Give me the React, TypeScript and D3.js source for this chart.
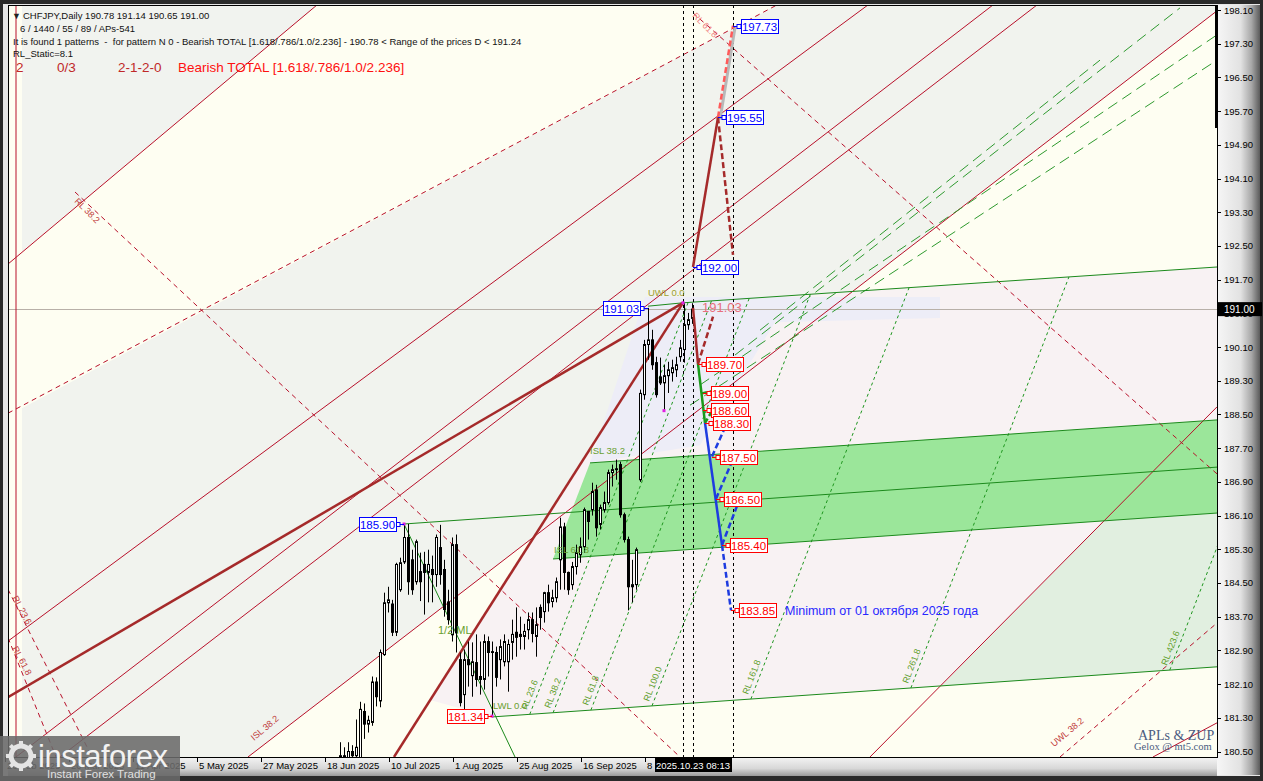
import React from "react";
import * as d3 from "d3";

// ---------- DATA ----------
const firstBar = 35; // bar index of first visible candle (bar 0 = 5 May 2025)
const opens = [180.2,180.4,180.3,180.5,180.4,180.35,181.45,181.15,181.19,182.15,181.7,182.8,184.03,184.0,183.33,184.34,185.0,185.58,185.05,184.53,184.77,184.94,184.75,184.82,184.7,185.34,184.82,184.05,183.27,185.41,182.68,181.85,182.68,182.3,182.61,182.28,182.21,183.11,182.87,182.85,182.68,182.63,182.63,183.09,183.33,183.23,183.23,183.39,183.63,183.23,183.92,183.82,184.27,184.06,184.15,185.05,185.83,184.75,184.46,184.89,185.17,185.36,186.2,186.24,186.71,185.89,186.24,186.41,187.12,187.21,187.31,186.12,185.53,184.41,184.46,186.95,188.97,190.16,190.27,189.73,189.39,189.25,189.42,189.49,189.56,189.87,190.04,190.63,190.78];
const highs = [180.72,180.6,180.72,180.65,181.26,181.68,181.64,181.35,182.28,182.26,182.92,184.27,184.41,184.1,184.98,185.1,185.9,185.9,185.29,185.53,185.22,185.24,185.29,185.15,185.65,185.88,185.05,184.34,185.58,185.65,182.85,182.92,183.11,183.09,183.28,183.11,183.28,183.23,183.11,182.99,183.16,183.28,183.16,183.63,183.92,183.7,183.53,183.8,183.8,183.92,183.99,184.29,184.46,184.34,184.63,186.05,185.93,184.77,185.0,185.41,185.58,186.29,186.2,186.88,186.83,186.36,186.67,187.19,187.31,187.43,187.38,186.17,185.6,185.05,185.34,189.09,190.27,191.03,190.51,189.87,189.85,189.68,189.75,189.8,189.87,190.27,191.14,190.91,191.14];
const lows = [180.0,180.1,180.1,180.2,180.3,180.2,180.8,180.95,181.11,181.57,181.55,182.77,183.8,183.24,183.24,184.29,184.95,184.22,184.22,184.46,184.07,183.75,184.04,184.04,184.41,184.46,183.7,183.51,183.11,182.85,181.57,181.43,182.04,181.8,182.04,181.85,181.97,182.28,181.34,182.04,182.21,182.52,181.92,182.68,182.75,182.92,182.92,183.16,183.09,182.75,183.39,183.56,183.82,183.92,184.04,184.34,184.34,184.22,184.34,184.7,184.98,185.22,185.53,186.1,185.6,185.77,186.17,186.36,186.79,186.95,186.05,185.46,183.85,184.04,184.34,186.9,188.85,189.8,189.56,188.9,189.2,188.59,189.01,189.28,189.39,189.75,189.73,190.51,190.65];
const closes = [180.4,180.3,180.5,180.4,180.6,181.5,181.15,181.24,182.15,181.8,182.85,184.03,184.1,183.33,184.94,184.98,185.58,184.53,184.34,185.48,184.53,184.75,184.94,184.7,185.58,184.7,183.87,183.63,185.41,183.32,181.66,182.68,182.56,182.63,182.21,182.21,183.11,182.85,182.85,182.26,182.99,183.11,183.04,183.28,183.21,183.28,183.35,183.63,183.3,183.51,183.68,184.27,184.03,184.15,184.53,185.83,184.75,184.34,184.89,185.22,185.36,186.24,185.96,186.67,185.81,186.29,186.41,187.12,187.19,187.19,186.12,185.53,184.41,184.46,185.29,189.0,190.16,190.27,189.68,188.97,189.25,189.42,189.56,189.61,189.68,190.08,190.63,190.75,191.0];

const priceTicks = [198.10,197.30,196.50,195.70,194.90,194.10,193.30,192.50,191.70,190.90,190.10,189.30,188.50,187.70,186.90,186.10,185.30,184.50,183.70,182.90,182.10,181.30,180.50];
const dateTickBars = [-48,-32,-16,0,16,32,48,64,80,96,112];
const dateTickLabels = ["26 Feb 2025","20 Mar 2025","11 Apr 2025","5 May 2025","27 May 2025","18 Jun 2025","10 Jul 2025","1 Aug 2025","25 Aug 2025","16 Sep 2025","8 Oct 2025"];

// overlay objects in (bar index, price)
const grayTriangle = [[-44.5,198.22],[29.25,198.22],[-44.5,192.36]];
const grayBand = [[-44.5,188.65],[144.25,198.22],[254.25,198.22],[254.25,198.08],[12,180.37],[-44.5,180.37]];
const pinkZone = [[120.75,191.15],[254.25,192.0],[254.25,182.51],[73,181.32],[57.5,181.72]];
const lavenderZone = [[111.25,191.29],[185,191.29],[185,190.79],[143.75,190.69],[125,187.77],[97.5,187.35]];
const greenWhiteZone = [[226,185.97],[254.25,186.16],[254.25,182.51],[185.25,182.05]];
const bandZone = [[88.25,185.07],[97.5,187.35],[254.25,188.37],[254.25,186.16]];

const thinRedLines = [
  [[-48,192.07],[29.25,198.22]],
  [[-48,183.12],[167,198.22]],
  [[-46,180.37],[198.25,198.22]],
  [[-35,180.37],[209.25,198.22]],
  [[12,180.37],[254.25,198.08]],
  [[167.5,180.37],[254.25,188.68]],
  [[238.25,180.37],[254.25,181.18]],
];
const redDashedLines = [
  [[-48,188.53],[144.25,198.22]],
  [[-31.25,193.78],[120,180.37]],
  [[123.25,198.03],[254.25,187.09]],
  [[215,180.37],[254.25,183.55]],
  [[-48,184.35],[-27,180.37]],
  [[-48,183.2],[-36,180.37]],
];
const thickLines = [
  [[-48,181.79],[120.75,191.15]],
  [[48.5,180.37],[120.75,191.15]],
];
const greenLines = [
  [[112,191.07],[120.75,191.15],[254.25,192.0]],
  [[97.5,187.35],[254.25,188.37]],
  [[51,185.9],[254.25,187.25]],
  [[88.25,185.07],[254.25,186.16]],
  [[73,181.32],[254.25,182.51]],
  [[51,185.9],[78.75,180.37]],
];
const greenLongDash = [
  [[122.5,188.72],[254.25,196.91]],
  [[125,189.2],[254.25,197.51]],
  [[133.75,189.91],[245,198.15]],
  [[140,190.5],[225,196.91]],
];
const rlLevels = [0.236,0.382,0.618,1.0,1.618,2.618,4.236];
const rlLabels = ["RL 23.6","RL 38.2","RL 61.8","RL 100.0","RL 161.8","RL 261.8","RL 423.6"];
const rlOrigin = 73, rlUnit = 40, rlRise = 0.2469; // bars, bars, price per bar
const lwl = [[73,181.32],[254.25,182.51]];
const uwl = [[120.75,191.15],[254.25,192.0]];

const brownSolid = [[[123.25,191.03],[124.5,189.7]],[[123.25,192.0],[129.5,195.55]]];
const brownDashed = [[[124.5,189.7],[128.25,190.82]],[[129.5,195.55],[133.25,192.29]]];
const redDashedProj = [[[129.5,195.55],[133.25,197.73]]];
const greenSolidProj = [[[124.5,189.7],[126.25,188.3]]];
const greenDashedProj = [[[125.5,189.0],[128.75,189.07]],[[126.25,188.3],[128.5,188.66]]];
const blueSolid = [[[126.25,188.3],[130.5,185.4]]];
const blueDashed = [[[128,187.5],[131.75,188.3]],[[129,186.5],[133.75,187.55]],[[130.5,185.4],[134.5,186.39]],[[130.5,185.4],[132.75,183.85]]];

const boxTexts = ["197.73","195.55","192.00","191.03","185.90","181.34","189.70","189.00","188.60","188.30","187.50","186.50","185.40","183.85"];
const boxBars = [133.25,129.5,123.25,112,51,73,124.5,125.75,125.75,126.25,128,129,130.5,132.75];
const boxPrices = [197.73,195.55,192.0,191.03,185.9,181.34,189.7,189.0,188.6,188.3,187.5,186.5,185.4,183.85];
const boxKinds = ["blue","blue","blue","blue","blue","red","red","red","red","red","red","red","red","red"];
const boxSides = ["r","r","r","l","l","l","r","r","r","r","r","r","r","r"];

const vLineBars = [120.75,123.25,133.25];
const dotPoints = [[51,185.9],[73,181.34],[120.75,191.15],[116,188.59]];

const greenTexts = ["UWL 0.0","ISL 38.2","ISL 61.8","1/2 ML","LWL 0.0"];
const greenTextPos = [[112,191.3],[97.5,187.55],[88.5,185.2],[59.5,183.3],[73.25,181.5]];
const redTexts = ["RL 38.2","RL 23.6","RL 61.8","ISL 38.2","RL 61.8","UWL 38.2"];
const redTextPos = [[-31.5,193.55],[-47,184.15],[-47,182.95],[13.5,180.75],[123,197.95],[213.5,180.6]];
const redTextAngles = [45,62,62,-40,45,-40];

const headerLines = [
  "6 / 1440 / 55 / 89 / APs-541",
  "It is found 1 patterns  -  for pattern N 0 - Bearish TOTAL [1.618/.786/1.0/2.236] - 190.78 < Range of the prices D < 191.24",
  "RL_Static=8.1",
];

// ---------- COMPONENT ----------
export default function App() {
  const W = 1263, H = 781;
  const L = 8, T = 5, R = 1217, B = 757;
  const x = d3.scaleLinear().domain([0, 123]).range([200, 692]);
  const y = d3.scaleLinear().domain([180.5, 198.1]).range([751.5, 10]);
  const line = d3.line<number[]>().x((d) => x(d[0])).y((d) => y(d[1]));
  const poly = (pts: number[][]) => line(pts) + "Z";
  const font = "'Liberation Sans', Arial, sans-serif";

  const interp = (seg: number[][], i: number) =>
    seg[0][1] + ((seg[1][1] - seg[0][1]) * (i - seg[0][0])) / (seg[1][0] - seg[0][0]);
  const uSlope = (uwl[1][1] - uwl[0][1]) / (uwl[1][0] - uwl[0][0]);
  const rlLines = rlLevels.map((f) => {
    const i0 = rlOrigin + rlUnit * f;
    const p0 = interp(lwl, i0);
    const i1 = (uwl[0][1] - uSlope * uwl[0][0] - p0 + rlRise * i0) / (rlRise - uSlope);
    const p1 = p0 + rlRise * (i1 - i0);
    return [[i0, p0], [i1, p1]];
  });
  const rlAngle = (Math.atan2(y(rlLines[0][1][1]) - y(rlLines[0][0][1]), x(rlLines[0][1][0]) - x(rlLines[0][0][0])) * 180) / Math.PI;

  const thinRed = "#B8102A";
  const brown = "#A52A2A";

  return (
    <svg width={W} height={H} style={{ position: "absolute", left: 0, top: 0, display: "block" }} fontFamily={font}>
      <defs>
        <clipPath id="plot">
          <rect x={L} y={T} width={R - L} height={B - T} />
        </clipPath>
        <linearGradient id="raxis" x1="0" x2="1" y1="0" y2="0">
          <stop offset="0" stopColor="#f6f6f6" />
          <stop offset="0.55" stopColor="#e2e2e2" />
          <stop offset="0.8" stopColor="#a8a8a8" />
          <stop offset="1" stopColor="#5a5a5a" />
        </linearGradient>
        <linearGradient id="baxis" x1="0" x2="0" y1="0" y2="1">
          <stop offset="0" stopColor="#f4f4f4" />
          <stop offset="0.6" stopColor="#d8d8d8" />
          <stop offset="1" stopColor="#9a9a9a" />
        </linearGradient>
      </defs>
      {/* frame */}
      <rect x={0} y={0} width={W} height={H} fill="#2a2a2a" />
      <rect x={3} y={4} width={W - 6} height={H - 9} fill="#e6e6e6" />
      <rect x={R} y={T} width={W - 3 - R} height={B - T + 18} fill="url(#raxis)" />
      <rect x={L} y={B} width={R - L} height={19} fill="url(#baxis)" />
      <rect x={L} y={T} width={R - L} height={B - T} fill="#FEFEF2" />

      <g clipPath="url(#plot)">
        <path d={poly(grayTriangle)} fill="#F1F3EF" />
        <path d={poly(grayBand)} fill="#F1F3EE" />
        <path d={poly(pinkZone)} fill="#F8F2F3" />
        <path d={poly(lavenderZone)} fill="#EDEDF7" />
        <path d={poly(greenWhiteZone)} fill="#EEF7EC" />
        <path d={poly(bandZone)} fill="#9BE69A" />
        <path d={poly(greenWhiteZone)} fill="rgba(0,90,0,0.05)" />

        {/* price line */}
        <line x1={L} x2={R} y1={Math.round(y(191.0)) + 0.5} y2={Math.round(y(191.0)) + 0.5} stroke="#B8B0A8" strokeWidth={1} />

        {thinRedLines.map((s, k) => (
          <path key={"tr" + k} d={line(s)!} stroke={thinRed} strokeWidth={1} fill="none" />
        ))}
        {redDashedLines.map((s, k) => (
          <path key={"rd" + k} d={line(s)!} stroke={thinRed} strokeWidth={1} strokeDasharray="5 4" fill="none" />
        ))}
        <line x1={x(-46)} x2={x(-46)} y1={T} y2={B} stroke={thinRed} strokeWidth={1} />
        {greenLongDash.map((s, k) => (
          <path key={"gl" + k} d={line(s)!} stroke="#2E9A2E" strokeWidth={1} strokeDasharray="11 6" fill="none" />
        ))}
        {rlLines.map((s, k) => (
          <path key={"rl" + k} d={line(s)!} stroke="#1E961E" strokeWidth={1} strokeDasharray="3 3" fill="none" />
        ))}
        {greenLines.map((s, k) => (
          <path key={"g" + k} d={line(s)!} stroke="#1C8A1C" strokeWidth={1} fill="none" />
        ))}
        {thickLines.map((s, k) => (
          <path key={"th" + k} d={line(s)!} stroke={brown} strokeWidth={2.5} fill="none" />
        ))}

        {vLineBars.map((b, k) => (
          <line key={"v" + k} x1={Math.round(x(b)) + 0.5} x2={Math.round(x(b)) + 0.5} y1={T} y2={B} stroke="#000" strokeWidth={1} strokeDasharray="3 3" />
        ))}

        {/* candles */}
        {opens.map((o, k) => {
          const cx = Math.round(x(firstBar + k)) + 0.5;
          const c = closes[k];
          const top = y(Math.max(o, c));
          const bot = y(Math.min(o, c));
          return (
            <g key={"c" + k}>
              <line x1={cx} x2={cx} y1={y(highs[k])} y2={y(lows[k])} stroke="#000" strokeWidth={1} />
              <rect x={cx - 1} y={top} width={2} height={Math.max(bot - top, 0.8)} fill={c >= o ? "#fff" : "#000"} stroke="#000" strokeWidth={1} />
            </g>
          );
        })}

        {/* projections */}
        {redDashedProj.map((s, k) => (
          <g key={"rp" + k}>
            <path d={line(s)!} transform="translate(2,2)" stroke="#b8b8b8" strokeWidth={3} fill="none" />
            <path d={line(s)!} stroke="#FF5A5A" strokeWidth={2.5} strokeDasharray="6 3" fill="none" />
          </g>
        ))}
        {brownSolid.map((s, k) => (
          <path key={"bs" + k} d={line(s)!} stroke={brown} strokeWidth={2.5} fill="none" />
        ))}
        {brownDashed.map((s, k) => (
          <path key={"bd" + k} d={line(s)!} stroke={brown} strokeWidth={2.5} strokeDasharray="6 3" fill="none" />
        ))}
        {greenSolidProj.map((s, k) => (
          <path key={"gs" + k} d={line(s)!} stroke="#1A9A1A" strokeWidth={2.5} fill="none" />
        ))}
        {greenDashedProj.map((s, k) => (
          <path key={"gd" + k} d={line(s)!} stroke="#1A9A1A" strokeWidth={2.5} strokeDasharray="5 3" fill="none" />
        ))}
        {blueSolid.map((s, k) => (
          <path key={"bls" + k} d={line(s)!} stroke="#1E3CE0" strokeWidth={2.5} fill="none" />
        ))}
        {blueDashed.map((s, k) => (
          <path key={"bld" + k} d={line(s)!} stroke="#1E3CE0" strokeWidth={2.5} strokeDasharray="6 3" fill="none" />
        ))}

        {dotPoints.map((d, k) => (
          <rect key={"dp" + k} x={x(d[0]) - 1.5} y={y(d[1]) - 1.5} width={3} height={3} fill="#E020E0" />
        ))}

        {/* text labels on chart */}
        {rlLines.map((s, k) => (
          <text key={"rlt" + k} transform={`translate(${x(s[0][0]) - 3},${y(s[0][1]) - 4}) rotate(${rlAngle})`} fontSize={9} fill="#5E9E2A">
            {rlLabels[k]}
          </text>
        ))}
        {greenTexts.map((t, k) => (
          <text key={"gt" + k} x={x(greenTextPos[k][0])} y={y(greenTextPos[k][1])} fontSize={k === 3 ? 11 : 9.5} fill={k === 0 ? "#A0A030" : "#6AA030"}>
            {t}
          </text>
        ))}
        {redTexts.map((t, k) => (
          <text key={"rt" + k} transform={`translate(${x(redTextPos[k][0])},${y(redTextPos[k][1])}) rotate(${redTextAngles[k]})`} fontSize={9} fill={k === 4 ? "#F08080" : "#C03A3A"}>
            {t}
          </text>
        ))}
        <text x={x(125.5)} y={y(191.03) + 4.5} fontSize={13} fill="#E8707C">191.03</text>
        <text x={785} y={y(183.85) + 4.5} fontSize={12.5} fill="#2828FF">Minimum от 01 октября 2025 года</text>

        {/* price boxes */}
        {boxTexts.map((t, k) => {
          const px = x(boxBars[k]);
          const py = Math.round(y(boxPrices[k])) + 0.5;
          const col = boxKinds[k] === "blue" ? "#0000FF" : "#FF0000";
          const bw = 37, bh = 14, gap = 8;
          const bx = boxSides[k] === "r" ? px + gap : px - gap - bw;
          const cx = boxSides[k] === "r" ? bx : bx + bw;
          return (
            <g key={"bx" + k}>
              <line x1={px} x2={cx} y1={py} y2={py} stroke={col} strokeWidth={1} />
              <rect x={boxSides[k] === "r" ? cx - 4 : cx} y={py - 2} width={4} height={4} fill="#fff" stroke={col} strokeWidth={1} />
              <rect x={Math.round(bx) + 0.5} y={py - 7} width={bw} height={bh} fill="#fff" stroke={col} strokeWidth={1} />
              <text x={bx + bw / 2} y={py + 4.5} fontSize={11.5} fill={col} textAnchor="middle">
                {t}
              </text>
            </g>
          );
        })}

        {/* header */}
        <text x={12} y={19} fontSize={9} fill="#222">▼</text>
        <text x={23} y={19} fontSize={9.5} fill="#111">CHFJPY,Daily  190.78 191.14 190.65 191.00</text>
        {headerLines.map((t, k) => (
          <text key={"h" + k} x={k === 0 ? 20 : 13} y={32 + k * 12.5} fontSize={9.5} fill="#111" style={{ whiteSpace: "pre" }}>
            {t}
          </text>
        ))}
        <text x={16} y={72} fontSize={13.5} fill="#C02828">2</text>
        <text x={57} y={72} fontSize={13.5} fill="#C02828">0/3</text>
        <text x={118} y={72} fontSize={13.5} fill="#C02828">2-1-2-0</text>
        <text x={178} y={72} fontSize={13.5} fill="#FF1010">Bearish TOTAL [1.618/.786/1.0/2.236]</text>

        <text x={1138} y={740} fontSize={14} fill="#4A5A80" fontFamily="'Liberation Serif', 'DejaVu Serif', serif">APLs &amp; ZUP</text>
        <text x={1134} y={750} fontSize={10.5} fill="#4A5A80" fontFamily="'Liberation Serif', 'DejaVu Serif', serif">Gelox @ mt5.com</text>
      </g>

      {/* plot border */}
      <rect x={L + 0.5} y={T + 0.5} width={R - L} height={B - T} fill="none" stroke="#000" strokeWidth={1} />
      <rect x={R - 2} y={T} width={3} height={123} fill="#000" />

      {/* right axis */}
      {priceTicks.map((p, k) => (
        <g key={"pt" + k}>
          <line x1={R} x2={R + 4} y1={Math.round(y(p)) + 0.5} y2={Math.round(y(p)) + 0.5} stroke="#000" />
          <text x={R + 7} y={y(p) + 3.5} fontSize={9.5} fill="#000">{p.toFixed(2)}</text>
        </g>
      ))}
      <rect x={R + 1} y={y(191.0) - 7} width={44} height={14} fill="#000" />
      <text x={R + 7} y={y(191.0) + 4} fontSize={10} fill="#fff">191.00</text>

      {/* bottom axis */}
      {dateTickBars.map((b, k) => (
        <g key={"dt" + k}>
          <line x1={Math.round(x(b)) - 2.5} x2={Math.round(x(b)) - 2.5} y1={B} y2={B + 5} stroke="#000" />
          <text x={x(b) - 1} y={B + 12} fontSize={9.5} fill="#000">{dateTickLabels[k]}</text>
        </g>
      ))}
      <rect x={x(123.25) - 38} y={B + 1} width={77} height={14} fill="#000" />
      <text x={x(123.25)} y={B + 11.5} fontSize={9.5} fill="#fff" textAnchor="middle">2025.10.23 08:13</text>

      {/* watermark logo */}
      <g>
        <rect x={0} y={736} width={180} height={45} fill="#6A6A6A" opacity={0.88} />
        <circle cx={21} cy={756} r={10} fill="none" stroke="#E4E4E4" strokeWidth={5} />
        {d3.range(8).map((k) => (
          <rect key={"gear" + k} x={19} y={741} width={4} height={6} fill="#E4E4E4" transform={`rotate(${k * 45},21,756)`} />
        ))}
        <text x={38} y={767} fontSize={31} fill="#F2F2F2" fontFamily="'Liberation Sans', Arial, sans-serif" letterSpacing={-0.5}>instaforex</text>
        <text x={47} y={778} fontSize={11.5} fill="#E0E0E0">Instant Forex Trading</text>
      </g>
    </svg>
  );
}
